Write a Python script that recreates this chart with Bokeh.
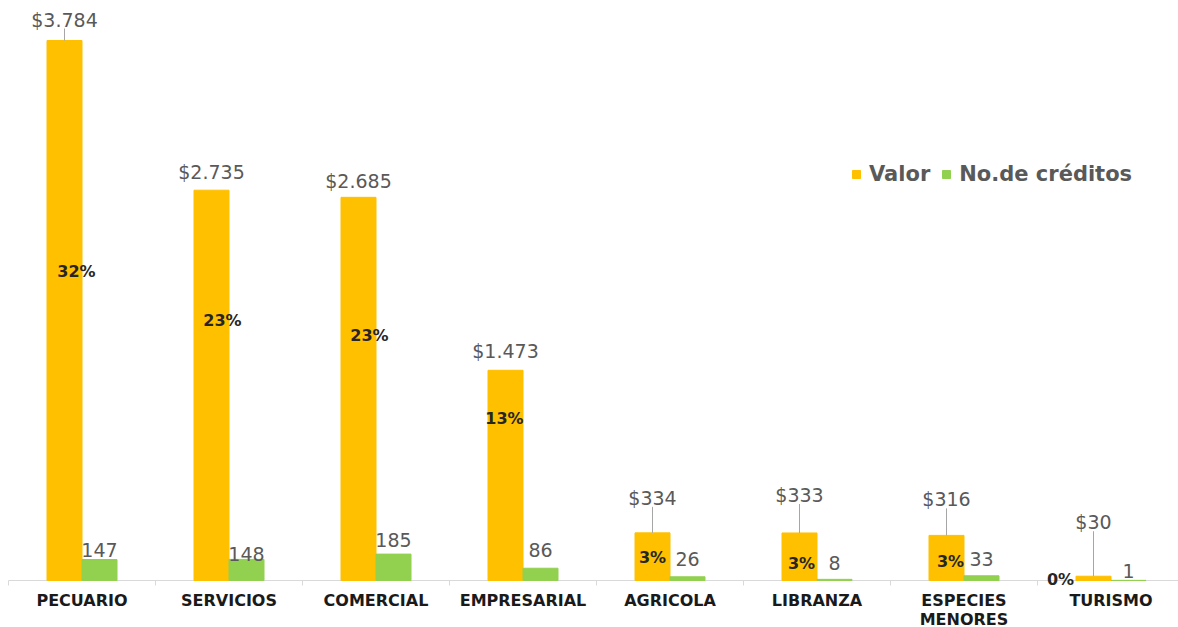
import numpy as np
from bokeh.plotting import figure
from bokeh.models import Range1d, ColumnDataSource, Legend, LegendItem
from bokeh.core.properties import value
from bokeh.embed import file_html
from bokeh.resources import INLINE

# ---- data ----
categories = ["PECUARIO", "SERVICIOS", "COMERCIAL", "EMPRESARIAL",
              "AGRICOLA", "LIBRANZA", "ESPECIES\nMENORES", "TURISMO"]
valor = [3784, 2735, 2685, 1473, 334, 333, 316, 30]
creditos = [147, 148, 185, 86, 26, 8, 33, 1]
valor_labels = ["$3.784", "$2.735", "$2.685", "$1.473", "$334", "$333", "$316", "$30"]
pct_labels = ["32%", "23%", "23%", "13%", "3%", "3%", "3%", "0%"]
cred_labels = [str(c) for c in creditos]

# ---- layout (pixels) ----
W, H = 1178, 627
LEFT_PX = 8
CAT_PX = 147.0
BASE_PX = 47            # baseline height above figure bottom
K = 3784 / 540.0        # data units per pixel
valor_label_off_px = [21, 18, 16, 19, 35, 38, 36, 54]
pct_pos_px = [309, 260, 245, 162, 23, 17, 19, 1]
pct_dx_px = [12, 11, 11, -1, 0, 2, 4, -33]
cred_pos_px = [31, 27, 41, 31, 22, 18, 22, 10]

n = len(categories)
xc = np.arange(n) + 0.5
off = 17.5 / CAT_PX
bw = 35.0 / CAT_PX
xo = xc - off
xg = xc + off

p = figure(width=W, height=H, output_backend="svg", toolbar_location=None,
           x_range=Range1d(-LEFT_PX / CAT_PX, (W - LEFT_PX) / CAT_PX),
           y_range=Range1d(-BASE_PX * K, (H - BASE_PX) * K),
           x_axis_location=None, y_axis_location=None, min_border=0)
p.outline_line_color = None
p.xgrid.visible = False
p.ygrid.visible = False
p.background_fill_color = "white"

# baseline & ticks
p.segment(x0=[0], y0=[0], x1=[n + 1], y1=[0], line_color="#D9D9D9", line_width=1)
tx = np.arange(n + 1)
p.segment(x0=tx, y0=[0] * (n + 1), x1=tx, y1=[-5 * K] * (n + 1), line_color="#D9D9D9", line_width=1)

src = ColumnDataSource(dict(xo=xo, xg=xg, xc=xc, valor=valor, creditos=creditos))
r1 = p.vbar(x="xo", top="valor", bottom=0, width=bw, color="#FFC000", source=src)
r2 = p.vbar(x="xg", top="creditos", bottom=0, width=bw, color="#92D050", source=src)

# value labels + leader lines
vy = [v + o * K for v, o in zip(valor, valor_label_off_px)]
p.text(x=xo, y=vy, text=valor_labels, text_align="center", text_baseline="middle",
       text_font=value("DejaVu Sans"), text_font_size=value("19px"), text_color="#595959")
lx, ly0, ly1 = [], [], []
for i in range(n):
    if valor_label_off_px[i] > 20:
        lx.append(xo[i]); ly0.append(valor[i]); ly1.append(valor[i] + (valor_label_off_px[i] - 9) * K)
p.segment(x0=lx, y0=ly0, x1=lx, y1=ly1, line_color="#A6A6A6", line_width=1)

# percentage labels
px_ = [xo[i] + pct_dx_px[i] / CAT_PX for i in range(n)]
py_ = [h * K for h in pct_pos_px]
p.text(x=px_, y=py_, text=pct_labels, text_align="center", text_baseline="middle",
       text_font=value("DejaVu Sans"), text_font_style="bold", text_font_size=value("16px"),
       text_color="#262626")

# credit labels
p.text(x=xg, y=[h * K for h in cred_pos_px], text=cred_labels, text_align="center",
       text_baseline="middle", text_font=value("DejaVu Sans"), text_font_size=value("19px"),
       text_color="#595959")

# category labels
p.text(x=xc, y=[-10 * K] * n, text=categories, text_align="center", text_baseline="top",
       text_font=value("DejaVu Sans"), text_font_style="bold", text_font_size=value("16px"),
       text_color="#1A1A1A", text_line_height=1.0)

legend = Legend(items=[LegendItem(label="Valor", renderers=[r1]),
                       LegendItem(label="No.de créditos", renderers=[r2])],
                orientation="horizontal", location=(851, 441),
                glyph_width=10, glyph_height=10, label_standoff=8, spacing=11,
                padding=0, margin=0, border_line_color=None, background_fill_alpha=0,
                label_text_font="DejaVu Sans", label_text_font_style="bold",
                label_text_font_size="21px", label_text_color="#595959", label_height=24)
p.add_layout(legend)

open("out.html", "w").write(file_html(p, INLINE))
